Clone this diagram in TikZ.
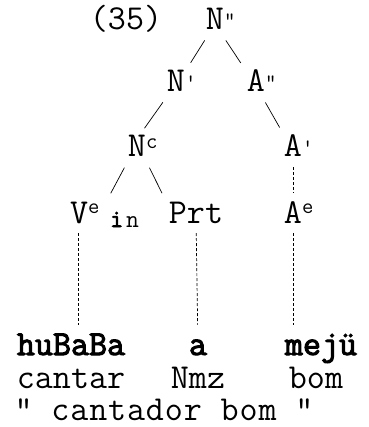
\documentclass[tikz,border=0pt]{standalone}
\usepackage{fontspec}
\newfontfamily\mono{Latin Modern Mono}
\newfontfamily\monobold[FakeBold=3]{Latin Modern Mono}
\newfontfamily\monowide[LetterSpace=2.5]{Latin Modern Mono}
\newcommand\upmark[2][8pt]{\rlap{\raisebox{#1}{\fontsize{22}{22}\selectfont#2}}}
\begin{document}
\begin{tikzpicture}[x=1pt,y=-1pt,
  lbl/.style={font=\mono\fontsize{35}{35}\selectfont,inner sep=1pt,text height=17pt,text depth=5pt,anchor=base},
  word/.style={lbl,font=\monobold\fontsize{35}{35}\selectfont},
  branch/.style={line width=0.7pt,shorten <=5pt,shorten >=13pt},
  assoc/.style={line width=0.7pt,dash pattern=on 3pt off 2pt,shorten <=4pt,shorten >=12pt}]
\useasboundingbox (0,0) rectangle (368,427);
% tree
\node[lbl] (n35) at (126,30) {(35)};
\node[lbl] (Npp) at (215,30) {N\upmark[2pt]{"}};
\node[lbl] (Np) at (176,92) {N\upmark[2pt]{'}};
\node[lbl] (App) at (256,92) {A\upmark[2pt]{"}};
\node[lbl] (Nc) at (137,157) {N\upmark{c}};
\node[lbl] (Ap) at (293,157) {A\upmark[2pt]{'}};
\node[lbl,anchor=base west] (Vin) at (69,223) {V\upmark[10pt]{e}\hspace{22pt}\raisebox{-4pt}{\fontsize{25}{25}\selectfont{\monobold i}\hspace{3pt}n}};
\node[lbl] (Prt) at (196,223) {Prt};
\node[lbl] (Ae) at (293,223) {A\upmark[10pt]{e}};
% words and glosses
\node[word] (hub) at (71,355) {huBaBa};
\node[word] (ma) at (198,355) {a};
\node[word] (mej) at (321,355) {mejü};
\node[lbl] (gcan) at (71,388) {cantar};
\node[lbl] (gnmz) at (198,388) {Nmz};
\node[lbl] (gbom) at (316,388) {bom};
\node[lbl,font=\monowide\fontsize{35}{35}\selectfont] (trans) at (164,420) {" cantador bom "};
\draw[branch] (Npp) -- (Np);
\draw[branch] (Npp) -- (App);
\draw[branch] (Np.south west) -- (Nc.north);
\draw[branch] (App) -- (Ap);
\draw[branch] (Nc.south west) -- (Vin.north);
\draw[branch] (Nc.south east) -- (Prt.north west);
\draw[assoc] (Ap) -- (Ae);
\coordinate (vfoot) at ([xshift=9pt]Vin.south west);
\draw[assoc] (vfoot) -- (vfoot |- hub.north);
\draw[assoc] (Prt) -- (ma);
\draw[assoc] (Ae) -- (Ae |- mej.north);
\end{tikzpicture}
\end{document}
